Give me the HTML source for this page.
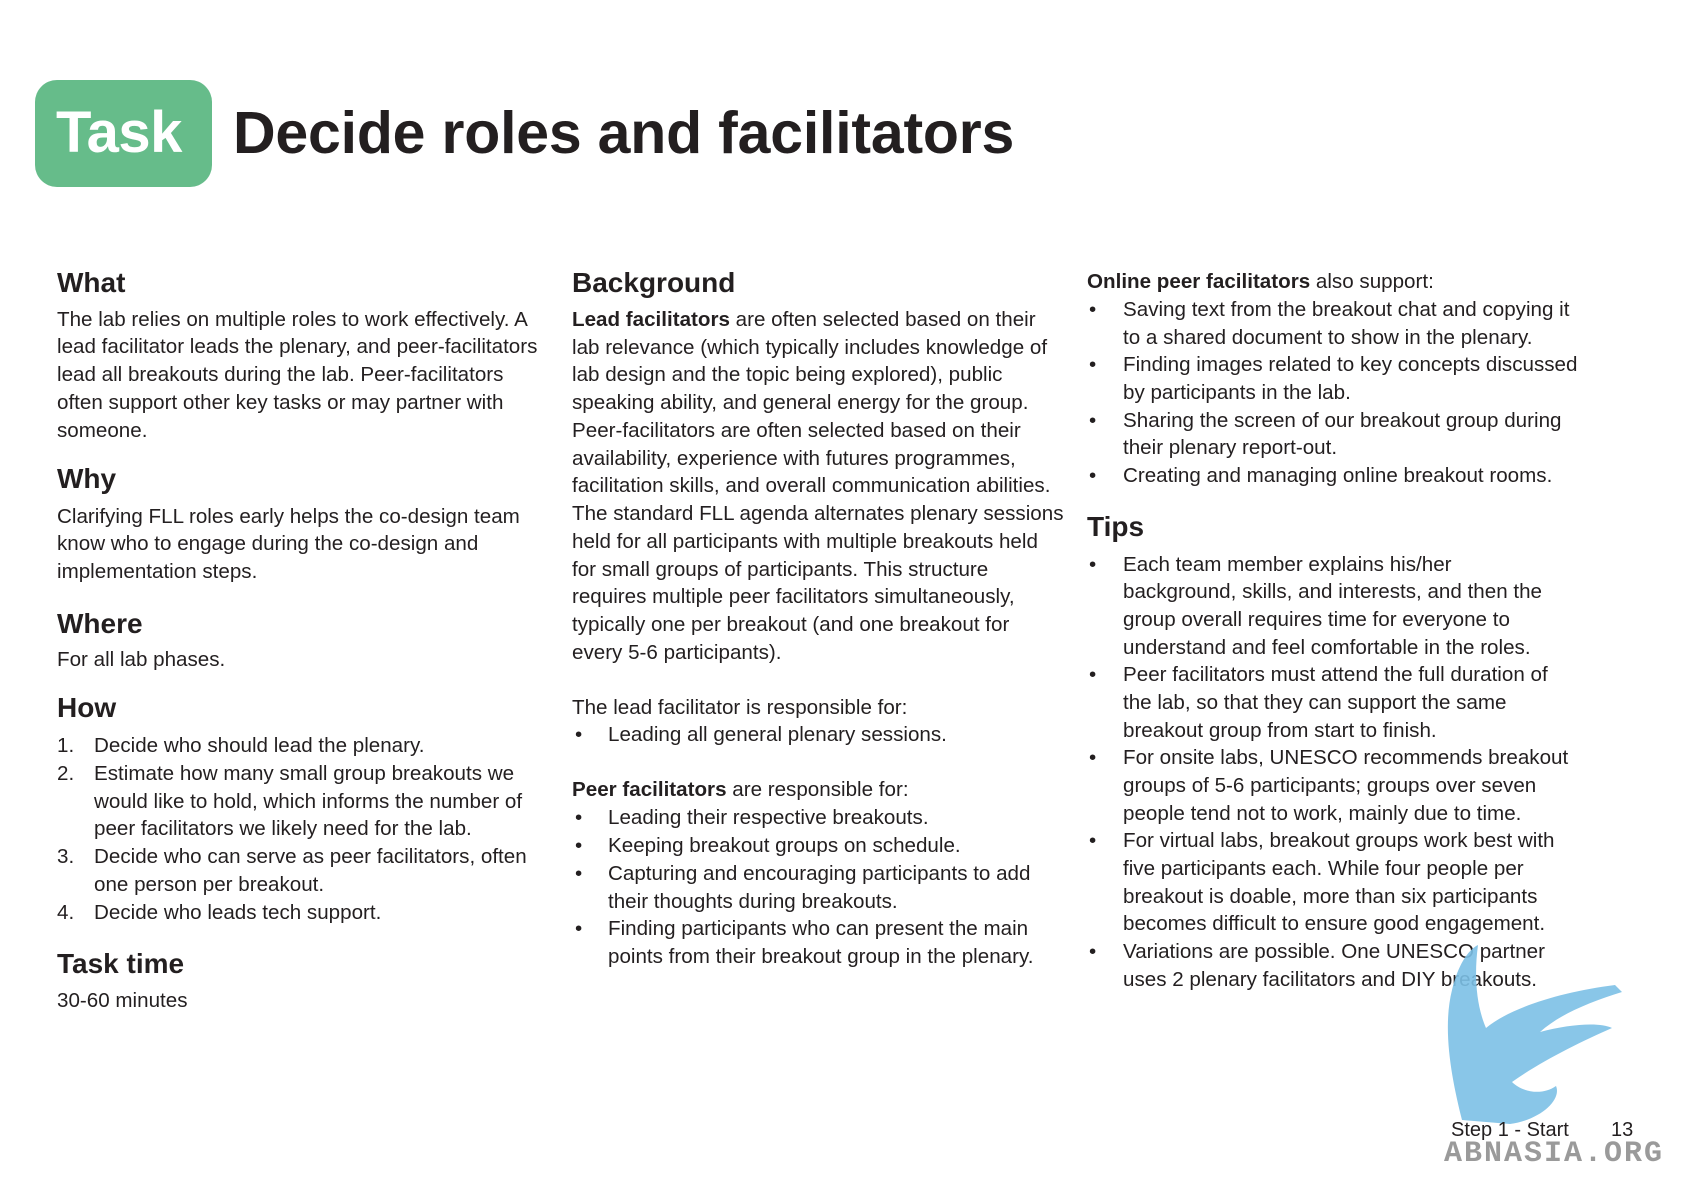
<!DOCTYPE html>
<html><head><meta charset="utf-8">
<style>
html,body{margin:0;padding:0;background:#fff;}
body{width:1684px;height:1191px;position:relative;overflow:hidden;font-family:"Liberation Sans",sans-serif;color:#231f20;}
.l{position:absolute;white-space:nowrap;font-size:20.6px;line-height:26px;letter-spacing:0px;}
.h{position:absolute;white-space:nowrap;font-size:28px;line-height:32px;font-weight:bold;letter-spacing:0px;}
b{font-weight:bold;}
</style></head><body>
<div style="position:absolute;left:35px;top:80px;width:177px;height:107px;background:#66bc8a;border-radius:22px;"></div>
<div style="position:absolute;left:56px;top:100px;font-size:58px;line-height:66px;font-weight:bold;color:#fff;letter-spacing:-0.5px;">Task</div>
<div style="position:absolute;left:233px;top:100px;font-size:59px;line-height:66px;font-weight:bold;color:#231f20;letter-spacing:-0.2px;">Decide roles and facilitators</div>

<!-- column 1 -->
<div class="h" style="left:57px;top:267px">What</div>
<div class="l" style="left:57px;top:307px">The lab relies on multiple roles to work effectively. A</div>
<div class="l" style="left:57px;top:334px">lead facilitator leads the plenary, and peer-facilitators</div>
<div class="l" style="left:57px;top:362px">lead all breakouts during the lab. Peer-facilitators</div>
<div class="l" style="left:57px;top:390px">often support other key tasks or may partner with</div>
<div class="l" style="left:57px;top:418px">someone.</div>
<div class="h" style="left:57px;top:463px">Why</div>
<div class="l" style="left:57px;top:504px">Clarifying FLL roles early helps the co-design team</div>
<div class="l" style="left:57px;top:531px">know who to engage during the co-design and</div>
<div class="l" style="left:57px;top:559px">implementation steps.</div>
<div class="h" style="left:57px;top:608px">Where</div>
<div class="l" style="left:57px;top:647px">For all lab phases.</div>
<div class="h" style="left:57px;top:692px">How</div>
<div class="l" style="left:57px;top:733px">1.</div>
<div class="l" style="left:94px;top:733px">Decide who should lead the plenary.</div>
<div class="l" style="left:57px;top:761px">2.</div>
<div class="l" style="left:94px;top:761px">Estimate how many small group breakouts we</div>
<div class="l" style="left:94px;top:789px">would like to hold, which informs the number of</div>
<div class="l" style="left:94px;top:816px">peer facilitators we likely need for the lab.</div>
<div class="l" style="left:57px;top:844px">3.</div>
<div class="l" style="left:94px;top:844px">Decide who can serve as peer facilitators, often</div>
<div class="l" style="left:94px;top:872px">one person per breakout.</div>
<div class="l" style="left:57px;top:900px">4.</div>
<div class="l" style="left:94px;top:900px">Decide who leads tech support.</div>
<div class="h" style="left:57px;top:948px">Task time</div>
<div class="l" style="left:57px;top:988px">30-60 minutes</div>

<!-- column 2 -->
<div class="h" style="left:572px;top:267px">Background</div>
<div class="l" style="left:572px;top:307px"><b>Lead facilitators</b> are often selected based on their</div>
<div class="l" style="left:572px;top:335px">lab relevance (which typically includes knowledge of</div>
<div class="l" style="left:572px;top:362px">lab design and the topic being explored), public</div>
<div class="l" style="left:572px;top:390px">speaking ability, and general energy for the group.</div>
<div class="l" style="left:572px;top:418px">Peer-facilitators are often selected based on their</div>
<div class="l" style="left:572px;top:446px">availability, experience with futures programmes,</div>
<div class="l" style="left:572px;top:473px">facilitation skills, and overall communication abilities.</div>
<div class="l" style="left:572px;top:501px">The standard FLL agenda alternates plenary sessions</div>
<div class="l" style="left:572px;top:529px">held for all participants with multiple breakouts held</div>
<div class="l" style="left:572px;top:557px">for small groups of participants. This structure</div>
<div class="l" style="left:572px;top:584px">requires multiple peer facilitators simultaneously,</div>
<div class="l" style="left:572px;top:612px">typically one per breakout (and one breakout for</div>
<div class="l" style="left:572px;top:640px">every 5-6 participants).</div>
<div class="l" style="left:572px;top:695px">The lead facilitator is responsible for:</div>
<div class="l" style="left:575px;top:722px">•</div>
<div class="l" style="left:608px;top:722px">Leading all general plenary sessions.</div>
<div class="l" style="left:572px;top:777px"><b>Peer facilitators</b> are responsible for:</div>
<div class="l" style="left:575px;top:805px">•</div>
<div class="l" style="left:608px;top:805px">Leading their respective breakouts.</div>
<div class="l" style="left:575px;top:833px">•</div>
<div class="l" style="left:608px;top:833px">Keeping breakout groups on schedule.</div>
<div class="l" style="left:575px;top:861px">•</div>
<div class="l" style="left:608px;top:861px">Capturing and encouraging participants to add</div>
<div class="l" style="left:608px;top:889px">their thoughts during breakouts.</div>
<div class="l" style="left:575px;top:916px">•</div>
<div class="l" style="left:608px;top:916px">Finding participants who can present the main</div>
<div class="l" style="left:608px;top:944px">points from their breakout group in the plenary.</div>

<!-- column 3 -->
<div class="l" style="left:1087px;top:269px"><b>Online peer facilitators</b> also support:</div>
<div class="l" style="left:1089px;top:297px">•</div>
<div class="l" style="left:1123px;top:297px">Saving text from the breakout chat and copying it</div>
<div class="l" style="left:1123px;top:325px">to a shared document to show in the plenary.</div>
<div class="l" style="left:1089px;top:352px">•</div>
<div class="l" style="left:1123px;top:352px">Finding images related to key concepts discussed</div>
<div class="l" style="left:1123px;top:380px">by participants in the lab.</div>
<div class="l" style="left:1089px;top:408px">•</div>
<div class="l" style="left:1123px;top:408px">Sharing the screen of our breakout group during</div>
<div class="l" style="left:1123px;top:435px">their plenary report-out.</div>
<div class="l" style="left:1089px;top:463px">•</div>
<div class="l" style="left:1123px;top:463px">Creating and managing online breakout rooms.</div>
<div class="h" style="left:1087px;top:511px">Tips</div>
<div class="l" style="left:1089px;top:552px">•</div>
<div class="l" style="left:1123px;top:552px">Each team member explains his/her</div>
<div class="l" style="left:1123px;top:579px">background, skills, and interests, and then the</div>
<div class="l" style="left:1123px;top:607px">group overall requires time for everyone to</div>
<div class="l" style="left:1123px;top:635px">understand and feel comfortable in the roles.</div>
<div class="l" style="left:1089px;top:662px">•</div>
<div class="l" style="left:1123px;top:662px">Peer facilitators must attend the full duration of</div>
<div class="l" style="left:1123px;top:690px">the lab, so that they can support the same</div>
<div class="l" style="left:1123px;top:718px">breakout group from start to finish.</div>
<div class="l" style="left:1089px;top:745px">•</div>
<div class="l" style="left:1123px;top:745px">For onsite labs, UNESCO recommends breakout</div>
<div class="l" style="left:1123px;top:773px">groups of 5-6 participants; groups over seven</div>
<div class="l" style="left:1123px;top:801px">people tend not to work, mainly due to time.</div>
<div class="l" style="left:1089px;top:828px">•</div>
<div class="l" style="left:1123px;top:828px">For virtual labs, breakout groups work best with</div>
<div class="l" style="left:1123px;top:856px">five participants each. While four people per</div>
<div class="l" style="left:1123px;top:884px">breakout is doable, more than six participants</div>
<div class="l" style="left:1123px;top:911px">becomes difficult to ensure good engagement.</div>
<div class="l" style="left:1089px;top:939px">•</div>
<div class="l" style="left:1123px;top:939px">Variations are possible. One UNESCO partner</div>
<div class="l" style="left:1123px;top:967px">uses 2 plenary facilitators and DIY breakouts.</div>

<!-- watermark bird -->
<svg style="position:absolute;left:0;top:0" width="1684" height="1191">
<path d="M1462 1120 C1452 1080 1442 1030 1452 990 C1458 965 1468 950 1478 945 C1474 975 1476 1005 1486 1028 C1510 1008 1560 992 1615 985 L1622 992 C1590 1002 1560 1014 1540 1032 C1570 1024 1600 1022 1612 1028 C1580 1042 1540 1062 1512 1082 C1522 1092 1542 1096 1556 1086 C1562 1100 1540 1120 1510 1124 Z" fill="#7cc0e6" opacity="0.9"/>
</svg>
<div style="position:absolute;left:1451px;top:1118px;font-size:20px;line-height:24px;white-space:nowrap;">Step 1 - Start</div>
<div style="position:absolute;left:1611px;top:1118px;font-size:20px;line-height:24px;">13</div>
<div style="position:absolute;left:1444px;top:1138px;font-family:'Liberation Mono',monospace;font-weight:bold;font-size:30px;line-height:32px;color:#9a9a9a;letter-spacing:2px;white-space:nowrap;">ABNASIA.ORG</div>
</body></html>
